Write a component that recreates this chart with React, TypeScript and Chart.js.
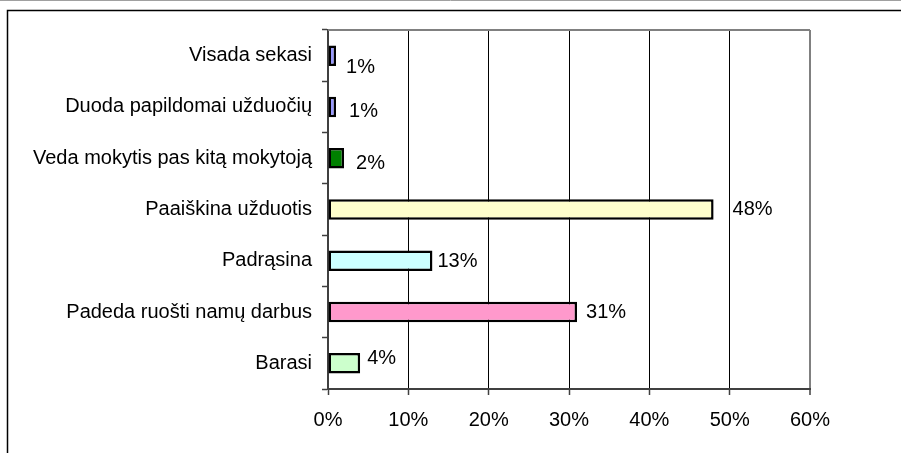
import React, { useEffect, useRef } from "react";
import { Chart, registerables } from "chart.js";

Chart.register(...registerables);

const categories = [
  "Visada sekasi",
  "Duoda papildomai užduočių",
  "Veda mokytis pas kitą mokytoją",
  "Paaiškina užduotis",
  "Padrąsina",
  "Padeda ruošti namų darbus",
  "Barasi",
];
const values = [1, 1, 2, 48, 13, 31, 4];
const barColors = ["#9999FF", "#9999FF", "#008000", "#FFFFCC", "#CCFFFF", "#FF99CC", "#CCFFCC"];
const axisMin = 0;
const axisMax = 60;
const axisStep = 10;
// small nudges of the value labels, relative to each bar end
const labelNudgeX = [10, 13, 12, 19, 5, 9, 7];
const labelNudgeY = [12, 5, 5, 0, 1, 0, -5];

const FONT = "'Liberation Sans', Arial, sans-serif";
const FONT_SIZE = 20;

const framePlugin = {
  id: "frame",
  beforeDraw(chart: any) {
    const ctx = chart.ctx;
    ctx.save();
    ctx.strokeStyle = "#a0a0a0";
    ctx.lineWidth = 1;
    ctx.beginPath();
    ctx.moveTo(0, 0.5);
    ctx.lineTo(chart.width, 0.5);
    ctx.stroke();
    ctx.strokeStyle = "#000";
    ctx.lineWidth = 1.5;
    ctx.beginPath();
    ctx.moveTo(7.5, chart.height);
    ctx.lineTo(7.5, 10.5);
    ctx.lineTo(chart.width, 10.5);
    ctx.stroke();
    ctx.restore();
  },
  afterDraw(chart: any) {
    const { ctx, chartArea } = chart;
    ctx.save();
    ctx.strokeStyle = "#808080";
    ctx.lineWidth = 2;
    ctx.beginPath();
    ctx.moveTo(chartArea.left, chartArea.top);
    ctx.lineTo(chartArea.right, chartArea.top);
    ctx.stroke();
    ctx.restore();
  },
};

const valueLabelPlugin = {
  id: "valueLabels",
  afterDatasetsDraw(chart: any) {
    const ctx = chart.ctx;
    const meta = chart.getDatasetMeta(0);
    ctx.save();
    ctx.font = `${FONT_SIZE}px ${FONT}`;
    ctx.fillStyle = "#000";
    ctx.textAlign = "left";
    ctx.textBaseline = "middle";
    meta.data.forEach((bar: any, i: number) => {
      ctx.fillText(`${values[i]}%`, bar.x + labelNudgeX[i], bar.y + labelNudgeY[i]);
    });
    ctx.restore();
  },
};

export default function App() {
  const ref = useRef<HTMLCanvasElement>(null);

  useEffect(() => {
    if (!ref.current) return;
    Chart.defaults.font.family = FONT;
    Chart.defaults.font.size = FONT_SIZE;
    Chart.defaults.color = "#000";
    const chart = new Chart(ref.current, {
      type: "bar",
      data: {
        labels: categories,
        datasets: [
          {
            data: values,
            backgroundColor: barColors,
            borderColor: "#000",
            borderWidth: 2.5,
            borderSkipped: false,
            categoryPercentage: 1,
            barPercentage: 0.4,
          },
        ],
      },
      options: {
        indexAxis: "y",
        responsive: false,
        animation: false,
        devicePixelRatio: 1,
        layout: { padding: { top: 30, right: 91, left: 0, bottom: 0 } },
        plugins: {
          legend: { display: false },
          tooltip: { enabled: false },
          title: { display: false },
        },
        scales: {
          x: {
            type: "linear",
            min: axisMin,
            max: axisMax,
            ticks: {
              stepSize: axisStep,
              padding: 13,
              color: "#000",
              callback: (v: any) => `${v}%`,
              maxRotation: 0,
            },
            grid: {
              color: (c: any) =>
                c.tick && c.tick.value === axisMax ? "#808080" : c.tick && c.tick.value === axisMin ? "#404040" : "#000",
              lineWidth: (c: any) => (c.tick && c.tick.value === axisMax ? 2 : 1),
              tickColor: "#404040",
              tickLength: 6,
              tickWidth: 1.5,
            },
            border: { display: true, color: "#404040", width: 2 },
            afterFit: (s: any) => {
              s.height = 64;
            },
          },
          y: {
            type: "category",
            ticks: { padding: 10, color: "#000", autoSkip: false },
            grid: {
              drawOnChartArea: false,
              drawTicks: true,
              tickLength: 6,
              color: "#404040",
              tickWidth: 1.5,
              offset: true,
            },
            border: { display: true, color: "#404040", width: 2 },
            afterFit: (s: any) => {
              s.width = 328;
            },
          },
        },
      },
      plugins: [framePlugin, valueLabelPlugin],
    });
    return () => chart.destroy();
  }, []);

  return (
    <div style={{ position: "absolute", left: 0, top: 0, width: 901, height: 453, background: "#fff" }}>
      <canvas ref={ref} width={901} height={453} style={{ width: "901px", height: "453px" }} />
    </div>
  );
}
